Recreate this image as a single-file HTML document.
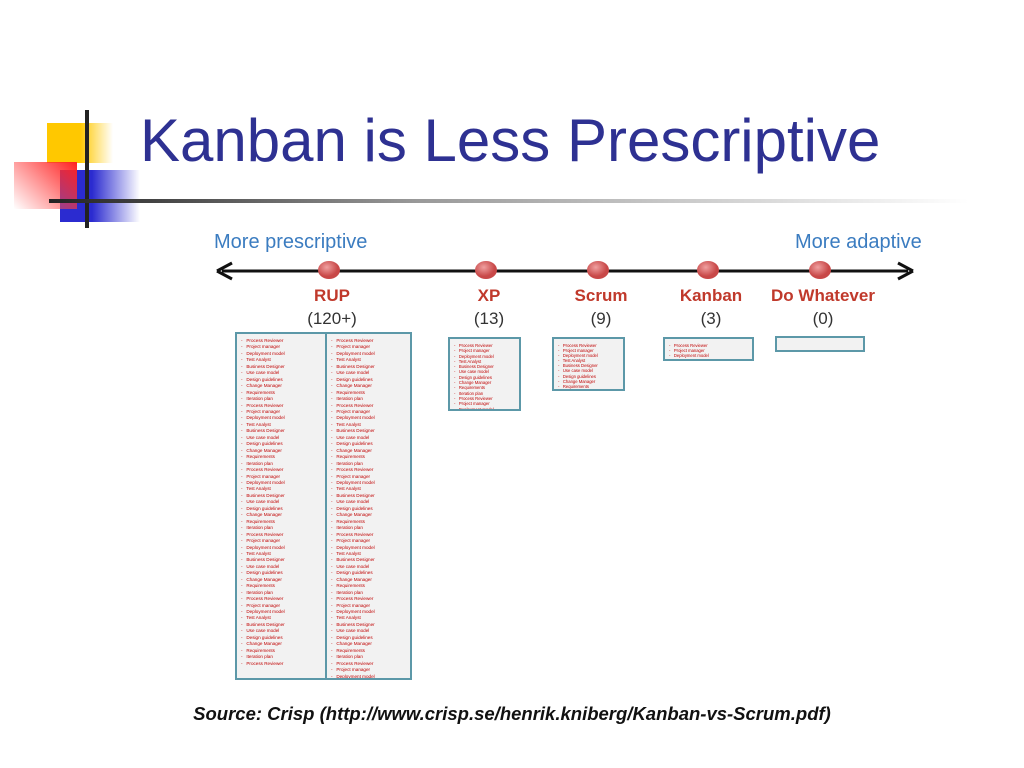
<!DOCTYPE html>
<html><head><meta charset="utf-8"><style>
body{margin:0;width:1024px;height:768px;background:#fff;position:relative;overflow:hidden;font-family:"Liberation Sans",sans-serif}
.abs{position:absolute}
.box{position:absolute;background:#f2f2f2;border:2px solid #5c98a8;box-sizing:border-box;overflow:hidden}
.col{position:absolute;top:4px;font-size:4.6px;line-height:6.45px;color:#c00000;white-space:nowrap;overflow:hidden}
.lbl{position:absolute;width:140px;text-align:center;font-size:17px;color:#333}
.lbl b{color:#c0392b}
</style></head><body>
<div class="abs" style="left:47px;top:123px;width:66px;height:40px;background:linear-gradient(90deg,#ffc800 50%,rgba(255,200,0,0))"></div>
<div class="abs" style="left:60px;top:170px;width:80px;height:52px;background:linear-gradient(90deg,#2b2bd0 40%,rgba(43,43,208,0))"></div>
<div class="abs" style="left:14px;top:162px;width:63px;height:47px;background:linear-gradient(45deg,rgba(255,255,255,0.2),#ff2020)"></div>
<div class="abs" style="left:85px;top:110px;width:4px;height:118px;background:#222"></div>
<div class="abs" style="left:49px;top:199px;width:920px;height:4px;background:linear-gradient(90deg,#222,#999 40%,#fff)"></div>
<div class="abs" style="left:140px;top:106px;font-size:60px;color:#2e3192">Kanban is Less Prescriptive</div>
<div class="abs" style="left:214px;top:231px;font-size:20px;color:#3b7cc0">More prescriptive</div>
<div class="abs" style="left:795px;top:231px;font-size:20px;color:#3b7cc0">More adaptive</div>
<svg class="abs" style="left:0;top:0" width="1024" height="768">
<defs><radialGradient id="g" cx="40%" cy="35%"><stop offset="0" stop-color="#f0a0a0"/><stop offset="1" stop-color="#c84848"/></radialGradient></defs>
<line x1="222" y1="271" x2="908" y2="271" stroke="#111" stroke-width="3"/>
<path d="M217 271 L232 263 M217 271 L232 279 M913 271 L898 263 M913 271 L898 279" stroke="#111" stroke-width="3" fill="none"/>
<g id="dots"></g>
</svg>
<div class="box" style="left:235px;top:332px;width:177px;height:348px"><div class="abs" style="left:88px;top:0;width:2px;height:344px;background:#5c98a8"></div><div class="col" id="c1" style="left:4px;width:84px"></div><div class="col" id="c2" style="left:94px;width:80px"></div></div>
<div class="box" style="left:448px;top:337px;width:73px;height:74px"><div class="col" id="c3" style="left:4px;width:66px;line-height:5.3px;font-size:4.2px"></div></div>
<div class="box" style="left:552px;top:337px;width:73px;height:54px"><div class="col" id="c4" style="left:4px;width:66px;line-height:5.1px;font-size:4.2px"></div></div>
<div class="box" style="left:663px;top:337px;width:91px;height:24px"><div class="col" id="c5" style="left:4px;width:84px;line-height:5px;font-size:4.2px"></div></div>
<div class="box" style="left:775px;top:336px;width:90px;height:16px"></div>
<div class="abs" style="left:0;width:1024px;top:703px;text-align:center;font-size:18.5px;font-weight:bold;font-style:italic;color:#111">Source: Crisp (http://www.crisp.se/henrik.kniberg/Kanban-vs-Scrum.pdf)</div>
<script>
const methods=["RUP","XP","Scrum","Kanban","Do Whatever"];
const counts=["(120+)","(13)","(9)","(3)","(0)"];
const xs=[329,486,598,708,820];
const ns=document.getElementById('dots');
methods.forEach((m,i)=>{
 const c=document.createElementNS('http://www.w3.org/2000/svg','ellipse');
 
 
 c.setAttribute('cx',xs[i]);c.setAttribute('cy',270);c.setAttribute('rx',11);c.setAttribute('ry',9);c.setAttribute('fill','url(#g)');
 ns.appendChild(c);
 const d=document.createElement('div');
 
 
 d.className='lbl';d.style.left=(xs[i]+3-70)+'px';d.style.top='286px';
 d.innerHTML='<b>'+m+'</b><br><span style="line-height:26px">'+counts[i]+'</span>';
 document.body.appendChild(d);
});
const words=["Business Designer","Change Manager","Process Reviewer","Test Analyst","Design guidelines","Iteration plan","Deployment model","Use case model","Requirements","Project manager"];
function fill(id,n){const el=document.getElementById(id);let h='';for(let i=0;i<n;i++)h+='-&nbsp;&nbsp; '+words[(i*7+id.length)%words.length]+'<br>';el.innerHTML=h;}
fill('c1',51);fill('c2',53);fill('c3',13);fill('c4',9);fill('c5',3);
</script>
</body></html>
